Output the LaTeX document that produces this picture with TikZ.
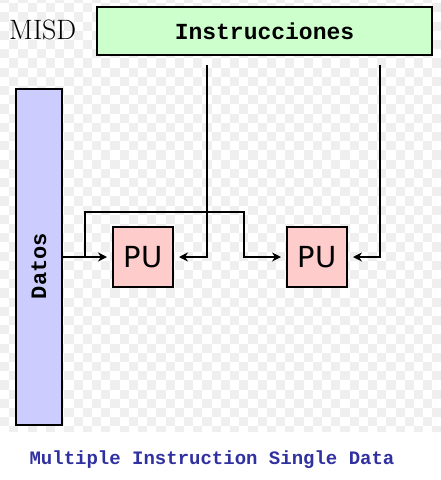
\documentclass[tikz,border=0pt]{standalone}
\usepackage{fontspec}
\usepackage{tikz}
\usetikzlibrary{positioning,arrows.meta}
\newfontfamily\monofont{Liberation Mono}
\newfontfamily\pufont{DejaVu Sans}
\definecolor{instgreen}{HTML}{CCFFCC}
\definecolor{datablue}{HTML}{CCCCFF}
\definecolor{pupink}{HTML}{FFCCCC}
\definecolor{checkgray}{HTML}{EFEFEF}
\definecolor{captionblue}{HTML}{3030A0}
\tikzset{
  box/.style={draw=black,line width=2pt,inner sep=0pt},
  pubox/.style={box,fill=pupink,minimum width=60pt,minimum height=60pt,font=\pufont\fontsize{29}{31}\selectfont},
  conn/.style={->,>={Stealth[length=9pt,width=9pt]},line width=2pt,shorten >=5pt}
}
\begin{document}
\begin{tikzpicture}[x=1pt,y=-1pt]

    \useasboundingbox (0,0) rectangle (441,480);

    % Checkered background
    \begin{scope}
        \clip (0,0) rectangle (441,431);
        \foreach \i in {0,...,48}
            {
            \foreach \j in {0,...,48}
                {
                \pgfmathtruncatemacro\p{mod(\i+\j,2)}
                \ifnum\p=0
                    \fill[checkgray] (\i*9.2,\j*9.2-6) rectangle ++(9.2,9.2);
                \fi
                }
            }
    \end{scope}

    \node[anchor=west,inner sep=0pt,font=\fontsize{28}{30}\selectfont] (misd) at (9,30) {MISD};

    \node[box,fill=instgreen,minimum width=335pt,minimum height=48pt,font=\monofont\bfseries\fontsize{23}{25}\selectfont] (inst) at (264.5,31) {Instrucciones};

    \node[box,fill=datablue,minimum width=46pt,minimum height=336pt] (datos) at (39,257) {};
    \node[rotate=90,font=\monofont\bfseries\fontsize{22}{24}\selectfont] (datoslabel) at (39,266) {Datos};

    \node[pubox] (pu1) at (143,257) {PU};
    \node[pubox] (pu2) at (317,257) {PU};

    % Data paths
    \coordinate (split) at (85,257);
    \coordinate (bend) at (244,212);
    \draw[conn] (datos.east) -- (pu1.west);
    \draw[conn] (split) |- (bend) |- (pu2.west);

    % Instruction paths
    \coordinate (i1) at (207,65);
    \coordinate (i2) at (380,65);
    \draw[conn] (i1) |- (pu1.east);
    \draw[conn] (i2) |- (pu2.east);

    \node[font=\monofont\bfseries\fontsize{19}{21}\selectfont,text=captionblue] (caption) at (212,460) {Multiple Instruction Single Data};

\end{tikzpicture}
\end{document}
